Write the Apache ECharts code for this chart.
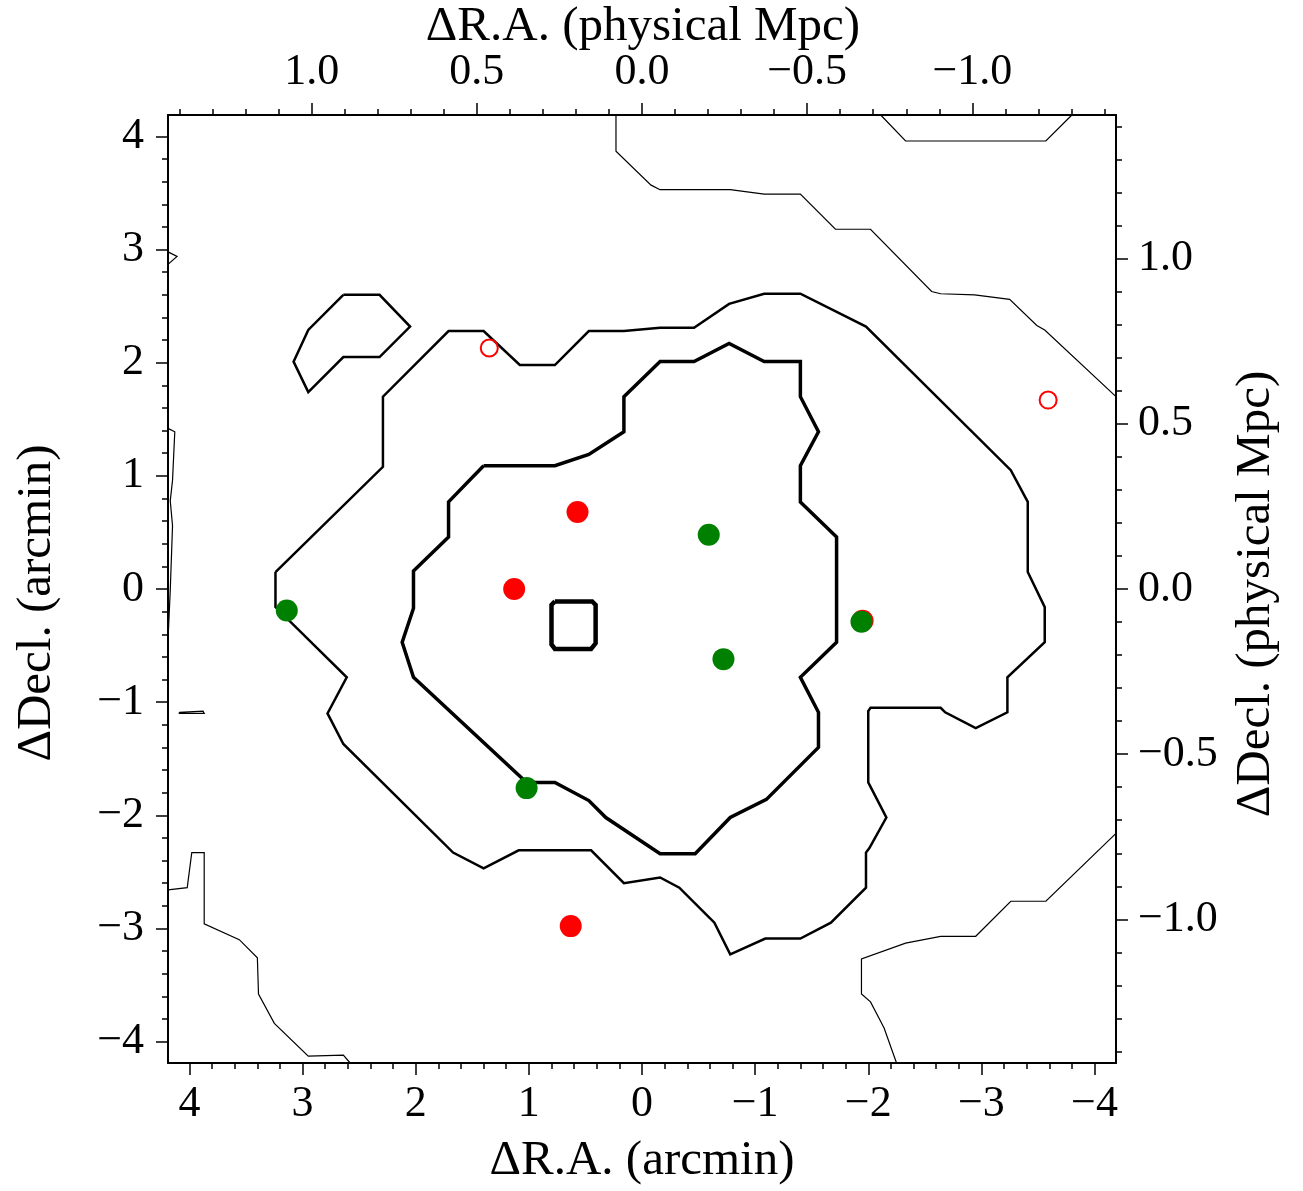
<!DOCTYPE html>
<html>
<head>
<meta charset="utf-8">
<title>contour map</title>
<script src="https://cdn.jsdelivr.net/npm/echarts@6.0.0/dist/echarts.min.js"></script>
<style>
  html, body { margin: 0; padding: 0; background: #fff; }
  #main { width: 1303px; height: 1191px; }
</style>
</head>
<body>
<div id="main"></div>
<script>
// axis extents (arcmin) and conversion to physical Mpc
const ARCMIN_EXT = 4.19
const ARCMIN_PER_MPC = 2.92
const MPC_EXT = ARCMIN_EXT / ARCMIN_PER_MPC

// tick labels
const arcminTicks = [-4, -3, -2, -1, 0, 1, 2, 3, 4]
const mpcTicks = [-1.0, -0.5, 0.0, 0.5, 1.0]

// contours, [dRA, dDecl] in arcmin
// lowest level (thin)
const level1Top = [[0.23,4.19],[0.23,3.87],[-0.08,3.57],[-0.16,3.53],[-0.78,3.53],[-1.08,3.49],[-1.40,3.49],[-1.71,3.18],[-2.02,3.18],[-2.56,2.63],[-2.64,2.61],[-2.94,2.60],[-3.25,2.56],[-3.49,2.33],[-3.56,2.29],[-4.19,1.70]]
const level1Corner = [[-2.11,4.19],[-2.33,3.96],[-3.57,3.96],[-3.80,4.19]]
const level1Notch = [[4.19,2.98],[4.11,2.94],[4.19,2.87]]
const level1Edge = [[4.19,1.42],[4.13,1.39],[4.15,0.96],[4.17,0.78],[4.15,0.56],[4.17,-0.01],[4.19,-0.45]]
const level1Sliver = [[4.09,-1.09],[3.88,-1.08],[3.87,-1.10],[4.09,-1.10],[4.09,-1.09]]
const level1BottomLeft = [[4.19,-2.66],[4.02,-2.64],[3.98,-2.33],[3.87,-2.33],[3.87,-2.96],[3.56,-3.10],[3.40,-3.26],[3.39,-3.58],[3.25,-3.84],[2.95,-4.13],[2.64,-4.12],[2.58,-4.19]]
const level1BottomRight = [[-2.25,-4.19],[-2.14,-3.88],[-2.02,-3.65],[-1.94,-3.58],[-1.94,-3.27],[-2.33,-3.13],[-2.64,-3.07],[-2.95,-3.07],[-3.26,-2.76],[-3.57,-2.76],[-4.19,-2.16]]
// second level
const level2Main = [[3.24,0.15],[3.24,-0.16],[2.61,-0.78],[2.78,-1.10],[2.64,-1.37],[1.67,-2.33],[1.40,-2.47],[1.09,-2.31],[0.45,-2.31],[0.16,-2.60],[-0.16,-2.55],[-0.33,-2.64],[-0.64,-2.95],[-0.78,-3.23],[-1.09,-3.09],[-1.40,-3.09],[-1.67,-2.95],[-1.98,-2.64],[-1.98,-2.33],[-2.01,-2.29],[-2.16,-2.02],[-2.00,-1.71],[-2.00,-1.08],[-2.02,-1.05],[-2.64,-1.05],[-2.68,-1.09],[-2.95,-1.23],[-3.23,-1.09],[-3.23,-0.78],[-3.56,-0.47],[-3.56,-0.16],[-3.41,0.15],[-3.41,0.77],[-3.26,1.05],[-1.98,2.32],[-1.40,2.61],[-1.08,2.61],[-0.77,2.52],[-0.46,2.31],[-0.16,2.31],[0.16,2.28],[0.47,2.28],[0.77,1.98],[1.08,1.98],[1.40,2.28],[1.71,2.28],[2.29,1.70],[2.29,1.08],[3.24,0.15]]
const level2Blob = [[2.64,2.60],[2.32,2.60],[2.05,2.32],[2.32,2.05],[2.64,2.05],[2.95,1.74],[3.08,2.01],[2.95,2.29],[2.64,2.60]]
// third level
const level3Main = [[1.40,1.09],[0.77,1.09],[0.47,1.19],[0.16,1.39],[0.16,1.70],[-0.16,2.01],[-0.46,2.01],[-0.77,2.17],[-1.08,2.01],[-1.40,2.01],[-1.40,1.70],[-1.56,1.39],[-1.40,1.09],[-1.40,0.77],[-1.72,0.46],[-1.72,-0.47],[-1.40,-0.78],[-1.56,-1.09],[-1.56,-1.40],[-1.10,-1.86],[-0.78,-2.02],[-0.47,-2.34],[-0.16,-2.34],[0.32,-2.02],[0.47,-1.87],[0.77,-1.71],[1.02,-1.71],[2.02,-0.78],[2.12,-0.47],[2.02,-0.17],[2.02,0.16],[1.71,0.46],[1.71,0.77],[1.40,1.09]]
// peak
const level4Core = [[0.77,-0.11],[0.44,-0.11],[0.41,-0.14],[0.41,-0.48],[0.45,-0.53],[0.77,-0.53],[0.80,-0.49],[0.80,-0.14],[0.77,-0.11]]

// galaxies
const redFilled = [[0.57,0.68],[1.13,0.00],[0.63,-2.98],[-1.95,-0.28]]
const greenFilled = [[3.14,-0.19],[-0.59,0.48],[-0.72,-0.62],[-1.94,-0.29],[1.02,-1.76]]
const redOpen = [[1.35,2.13],[-3.59,1.67]]

const FONT = "'Liberation Serif', 'DejaVu Serif', serif"
const minus = (s) => s.replace('-', '\u2212')

const makeAxis = (extra) => Object.assign({
    type: 'value',
    gridIndex: 0,
    axisLine: { onZero: false, lineStyle: { color: '#000', width: 2 } },
    splitLine: { show: false },
    minorTick: { show: true, splitNumber: 5, length: 6, lineStyle: { color: '#000', width: 1.5 } },
}, extra)

const arcminTick = { length: 12, lineStyle: { color: '#000', width: 1.5 }, customValues: arcminTicks }
const mpcTick = { length: 12, lineStyle: { color: '#000', width: 1.5 }, customValues: mpcTicks }
const arcminLabel = (margin) => ({
    customValues: arcminTicks, margin, color: '#000', fontFamily: FONT, fontSize: 44,
    formatter: (v) => minus(String(v))
})
const mpcLabel = (margin) => ({
    customValues: mpcTicks, margin, color: '#000', fontFamily: FONT, fontSize: 44,
    formatter: (v) => minus(v.toFixed(1))
})

const contour = (pts, width) => ({
    type: 'line', data: pts, xAxisIndex: 0, yAxisIndex: 0,
    symbol: 'none', showSymbol: false, silent: true, z: 2,
    lineStyle: { color: '#000', width, join: 'miter' }
})

const title = (text, x, y, rotation) => ({
    type: 'text', x, y, rotation,
    style: { text, fill: '#000', fontFamily: FONT, fontSize: 49, textAlign: 'center', textVerticalAlign: 'middle' }
})

const chart = echarts.init(document.getElementById('main'))
chart.setOption({
    animation: false,
    backgroundColor: '#fff',
    grid: { left: 168, top: 115, width: 948, height: 948 },
    xAxis: [
        makeAxis({ position: 'bottom', min: -ARCMIN_EXT, max: ARCMIN_EXT, inverse: true,
            minInterval: 1, maxInterval: 1, axisTick: arcminTick, axisLabel: arcminLabel(19) }),
        makeAxis({ position: 'top', min: -MPC_EXT, max: MPC_EXT, inverse: true,
            minInterval: 0.5, maxInterval: 0.5, axisTick: mpcTick, axisLabel: mpcLabel(21) })
    ],
    yAxis: [
        makeAxis({ position: 'left', min: -ARCMIN_EXT, max: ARCMIN_EXT,
            minInterval: 1, maxInterval: 1, axisTick: arcminTick, axisLabel: arcminLabel(24) }),
        makeAxis({ position: 'right', min: -MPC_EXT, max: MPC_EXT,
            minInterval: 0.5, maxInterval: 0.5, axisTick: mpcTick, axisLabel: mpcLabel(22) })
    ],
    graphic: [
        title('\u0394R.A. (arcmin)', 642, 1161, 0),
        title('\u0394R.A. (physical Mpc)', 643, 27, 0),
        title('\u0394Decl. (arcmin)', 37, 603, Math.PI / 2),
        title('\u0394Decl. (physical Mpc)', 1256, 594, Math.PI / 2)
    ],
    series: [
        contour(level1Top, 1.2),
        contour(level1Corner, 1.2),
        contour(level1Notch, 1.2),
        contour(level1Edge, 1.2),
        contour(level1Sliver, 1.2),
        contour(level1BottomLeft, 1.2),
        contour(level1BottomRight, 1.2),
        contour(level2Main, 2.5),
        contour(level2Blob, 2.5),
        contour(level3Main, 3.5),
        contour(level4Core, 4.5),
        {
            type: 'scatter', data: redFilled, symbol: 'circle', symbolSize: 22, z: 5,
            itemStyle: { color: '#ff0000', opacity: 1 }
        },
        {
            type: 'scatter', data: greenFilled, symbol: 'circle', symbolSize: 22, z: 6,
            itemStyle: { color: '#008000', opacity: 1 }
        },
        {
            type: 'scatter', data: redOpen, symbol: 'circle', symbolSize: 17, z: 5,
            itemStyle: { color: 'rgba(255,255,255,0)', borderColor: '#ff0000', borderWidth: 2, opacity: 1 }
        }
    ]
})
</script>
</body>
</html>
